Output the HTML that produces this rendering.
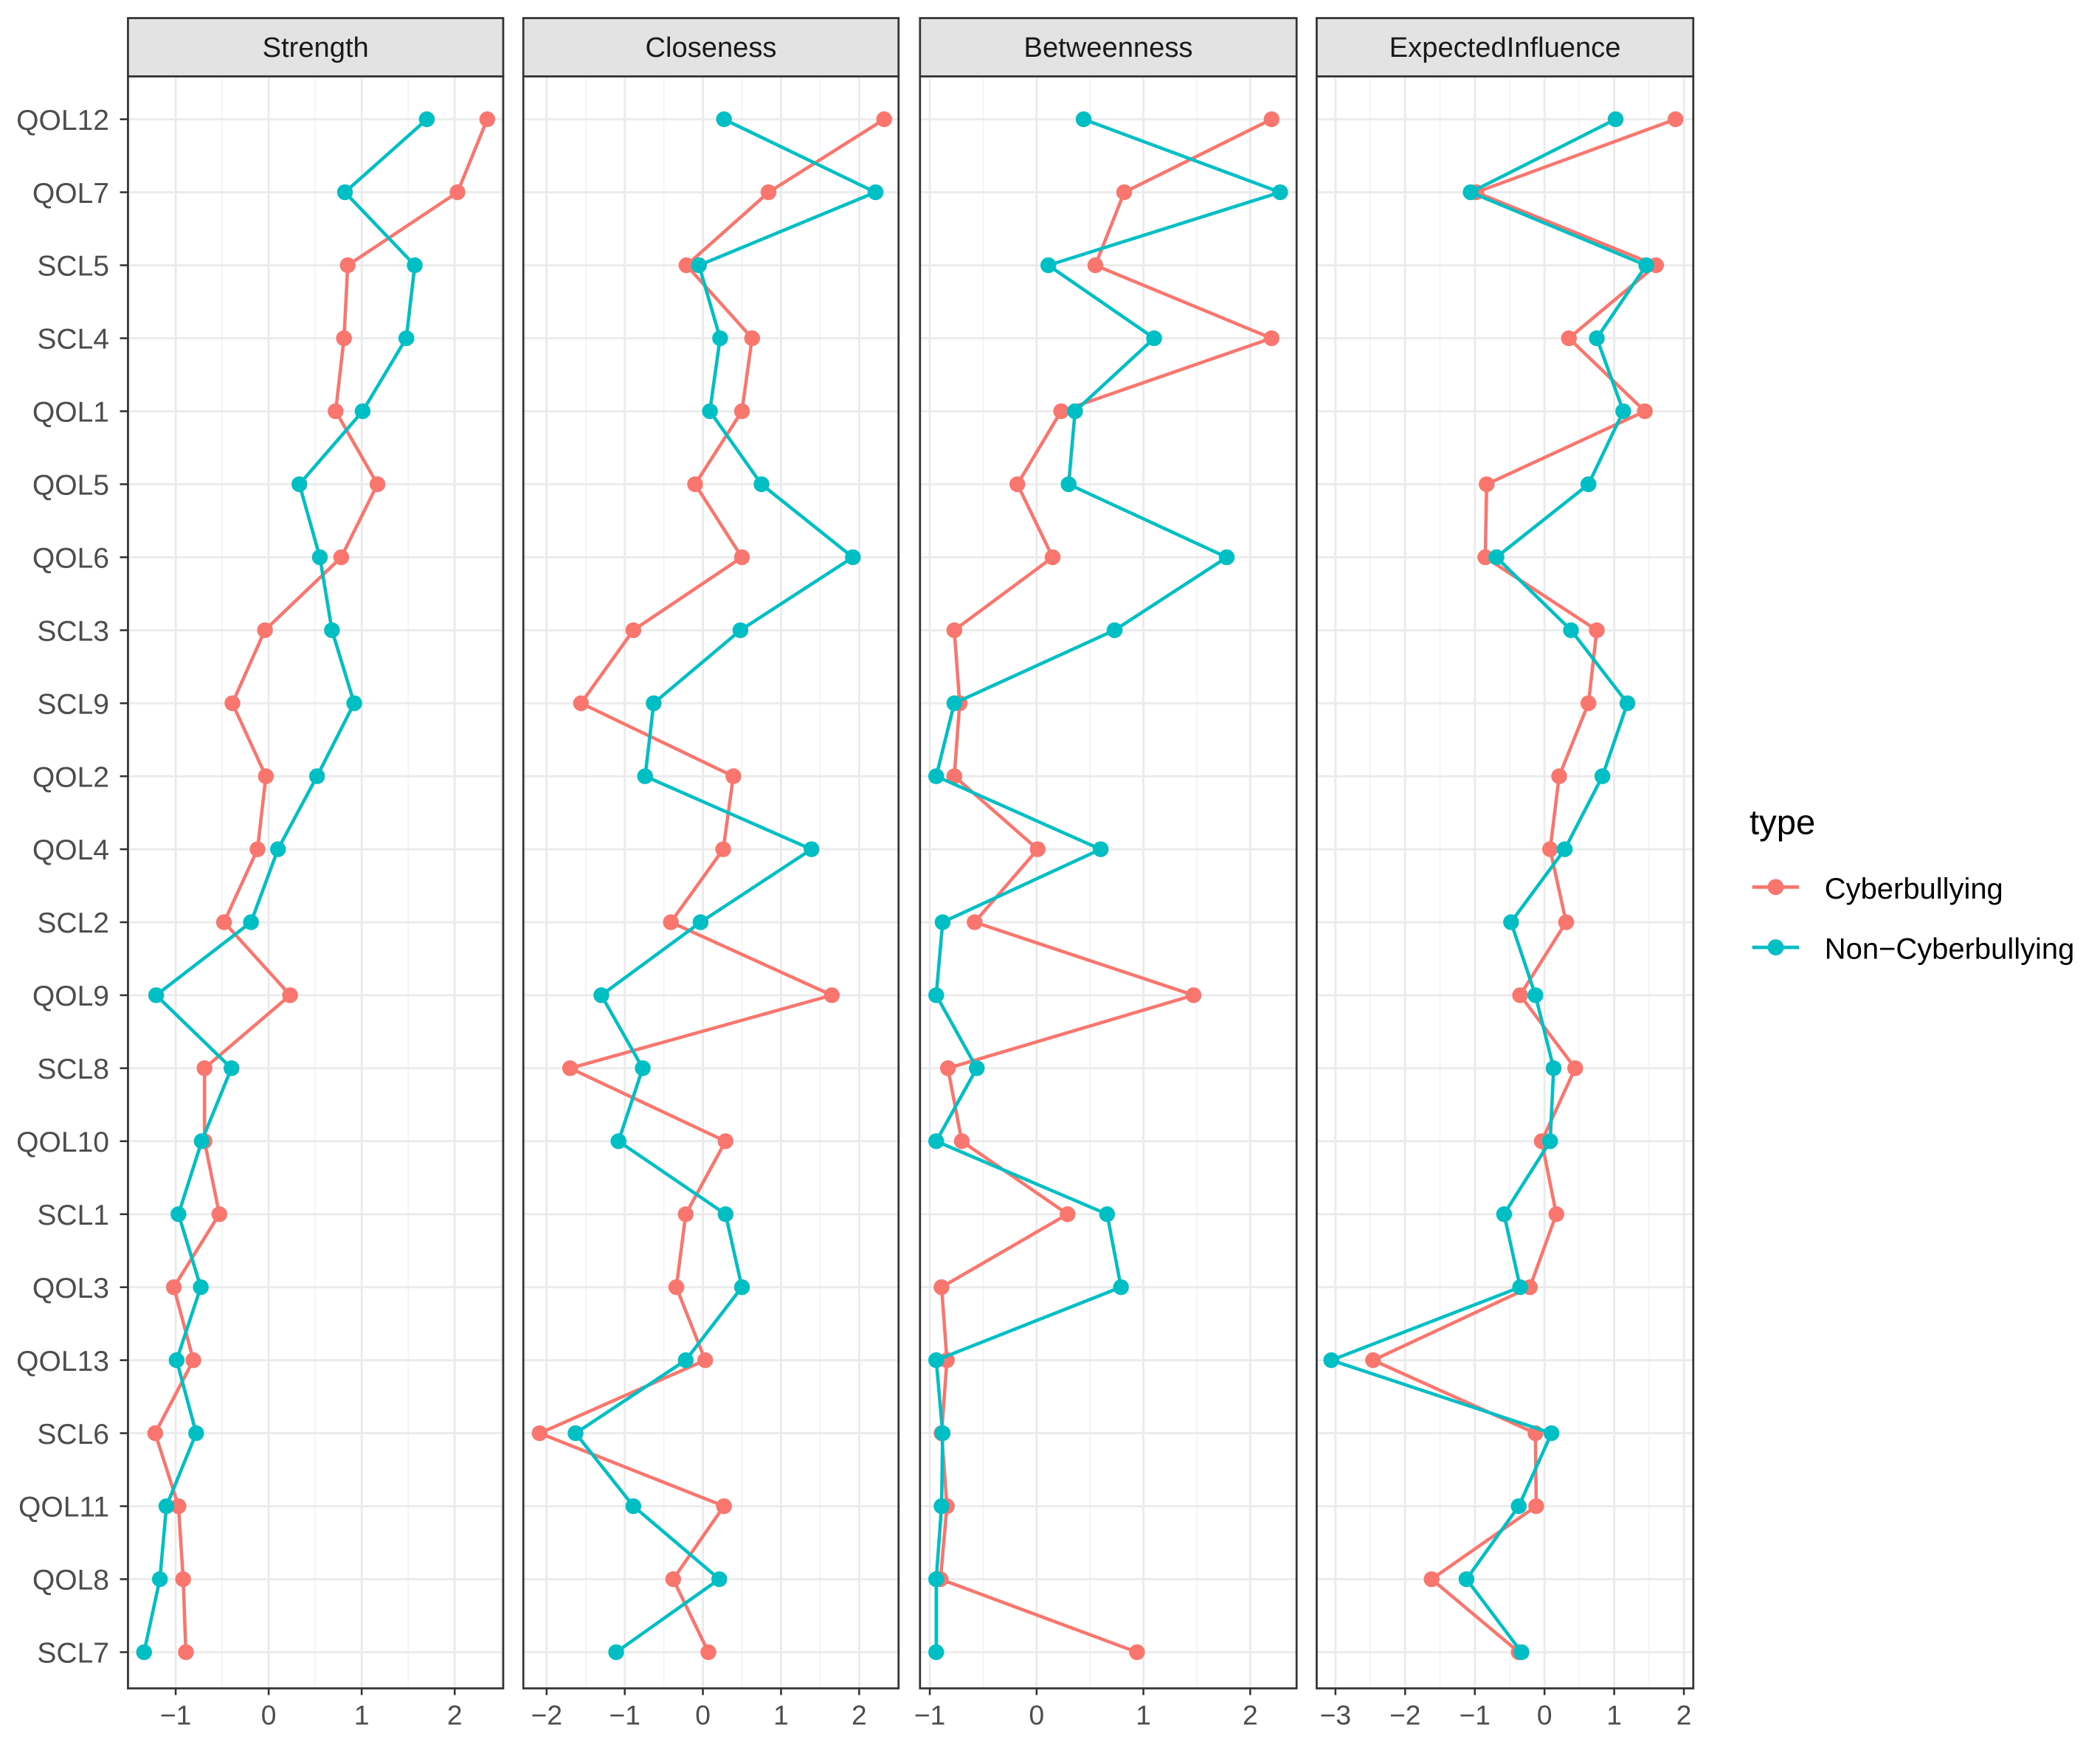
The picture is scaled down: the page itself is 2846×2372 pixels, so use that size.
<!DOCTYPE html>
<html><head><meta charset="utf-8"><style>html,body{margin:0;padding:0;background:#fff}svg{display:block}</style></head>
<body>
<svg id="chart" xmlns="http://www.w3.org/2000/svg" width="2846" height="2372" viewBox="0 0 1566 1306" font-family="Liberation Sans, Arial, sans-serif"></svg>
<script>
const nodes = ["QOL12","QOL7","SCL5","SCL4","QOL1","QOL5","QOL6","SCL3","SCL9","QOL2","QOL4","SCL2","QOL9","SCL8","QOL10","SCL1","QOL3","QOL13","SCL6","QOL11","QOL8","SCL7"];
const panelTitles = ["Strength","Closeness","Betweenness","ExpectedInfluence"];
const strengthCyber = [2.35,2.03,0.85,0.81,0.72,1.17,0.78,-0.04,-0.39,-0.03,-0.12,-0.48,0.23,-0.69,-0.69,-0.53,-1.02,-0.81,-1.22,-0.97,-0.92,-0.89];
const strengthNon = [1.70,0.82,1.57,1.48,1.01,0.33,0.55,0.68,0.92,0.52,0.10,-0.19,-1.21,-0.40,-0.72,-0.97,-0.73,-0.99,-0.78,-1.10,-1.17,-1.34];
const closenessCyber = [2.32,0.84,-0.21,0.63,0.50,-0.10,0.50,-0.89,-1.56,0.39,0.26,-0.41,1.65,-1.70,0.29,-0.22,-0.34,0.03,-2.09,0.27,-0.38,0.07];
const closenessNon = [0.27,2.21,-0.05,0.22,0.09,0.75,1.92,0.48,-0.63,-0.74,1.39,-0.03,-1.30,-0.77,-1.08,0.29,0.50,-0.22,-1.63,-0.89,0.21,-1.11];
const betweenCyber = [2.20,0.82,0.55,2.20,0.23,-0.18,0.15,-0.77,-0.72,-0.77,0.01,-0.58,1.47,-0.83,-0.70,0.29,-0.89,-0.84,-0.89,-0.84,-0.90,0.94];
const betweenNon = [0.44,2.28,0.11,1.10,0.36,0.30,1.78,0.73,-0.77,-0.94,0.60,-0.88,-0.94,-0.56,-0.94,0.66,0.79,-0.94,-0.88,-0.89,-0.94,-0.94];
const eiCyber = [1.88,-0.98,1.60,0.35,1.44,-0.83,-0.85,0.75,0.63,0.21,0.08,0.31,-0.35,0.44,-0.04,0.17,-0.21,-2.46,-0.13,-0.12,-1.62,-0.37];
const eiNon = [1.02,-1.06,1.46,0.75,1.13,0.63,-0.69,0.38,1.19,0.83,0.29,-0.48,-0.13,0.13,0.08,-0.58,-0.35,-3.06,0.10,-0.37,-1.12,-0.33];
const strengthTicks = [-1,0,1,2];
const closenessTicks = [-2,-1,0,1,2];
const betweenTicks = [-1,0,1,2];
const eiTicks = [-3,-2,-1,0,1,2];

const NS = "http://www.w3.org/2000/svg";
const svg = document.getElementById("chart");
function mk(tag, attrs, parent, text){
  const e = document.createElementNS(NS, tag);
  for (const k in attrs) e.setAttribute(k, attrs[k]);
  if (text !== undefined) e.textContent = text;
  (parent || svg).appendChild(e);
  return e;
}
const RED = "#F8766D", TEAL = "#00BFC4";
const top0 = 57, bot0 = 1260;
function yPos(i){ return 89 + i * (1233 - 89) / (nodes.length - 1); }

const panels = [
  {x0:95, x1:375, zero:200, unit:69.4, ticks:strengthTicks, c:strengthCyber, n:strengthNon, key:"strength"},
  {x0:390, x1:670, zero:524, unit:58.3, ticks:closenessTicks, c:closenessCyber, n:closenessNon, key:"closeness"},
  {x0:686, x1:967, zero:773, unit:79.7, ticks:betweenTicks, c:betweenCyber, n:betweenNon, key:"betweenness"},
  {x0:982, x1:1263, zero:1152, unit:52, ticks:eiTicks, c:eiCyber, n:eiNon, key:"expected-influence"}
];

panels.forEach((p, pi) => {
  const xs = v => p.zero + v * p.unit;
  const g = mk("g", {});
  
  
  mk("rect", {x:p.x0, y:top0, width:p.x1-p.x0, height:bot0-top0, fill:"#fff"}, g);
  const tmin = p.ticks[0] - 1, tmax = p.ticks[p.ticks.length-1] + 1;
  for (let v = tmin; v <= tmax; v += 0.5) {
    const x = xs(v);
    if (x <= p.x0 || x >= p.x1) continue;
    const major = Number.isInteger(v) && p.ticks.includes(v);
    mk("line", {x1:x, x2:x, y1:top0, y2:bot0, stroke:major ? "#ebebeb" : "#f2f2f2", "stroke-width":major ? 1.6 : 0.8}, g);
  }
  nodes.forEach((nm, i) => {
    mk("line", {x1:p.x0, x2:p.x1, y1:yPos(i), y2:yPos(i), stroke:"#ebebeb", "stroke-width":1.6}, g);
  });
  [[p.c, RED, "cyberbullying"], [p.n, TEAL, "non-cyberbullying"]].forEach(([vals, col, nm]) => {
    const pts = vals.map((v, i) => xs(v).toFixed(1) + "," + yPos(i).toFixed(1)).join(" ");
    const line = mk("polyline", {points:pts, fill:"none", stroke:col, "stroke-width":2.5}, g);
    
    
    vals.forEach((v, i) => {
      const c = mk("circle", {cx:xs(v), cy:yPos(i), r:5.9, fill:col}, g);
      
      
    });
  });
  mk("rect", {x:p.x0, y:top0, width:p.x1-p.x0, height:bot0-top0, fill:"none", stroke:"#333", "stroke-width":1.5}, g);
  mk("rect", {x:p.x0, y:13.5, width:p.x1-p.x0, height:43.5, fill:"#e3e3e3", stroke:"#333", "stroke-width":1.5}, g);
  const st = mk("text", {x:(p.x0+p.x1)/2, y:42.5, "text-anchor":"middle", "font-size":21, fill:"#1a1a1a"}, g, panelTitles[pi]);
  
  
  p.ticks.forEach(t => {
    const x = xs(t);
    mk("line", {x1:x, x2:x, y1:bot0, y2:bot0+5, stroke:"#333", "stroke-width":1.4}, g);
    const tl = mk("text", {x:x, y:1287, "text-anchor":"middle", "font-size":20.5, fill:"#4d4d4d"}, g, t < 0 ? "\u2212" + Math.abs(t) : String(t));
    
    
  });
});

nodes.forEach((nm, i) => {
  mk("line", {x1:89, x2:95, y1:yPos(i), y2:yPos(i), stroke:"#333", "stroke-width":1.4});
  const t = mk("text", {x:81, y:yPos(i)+7.8, "text-anchor":"end", "font-size":21.5, fill:"#4d4d4d"}, svg, nm);
  
  
});

const lg = mk("g", {});


mk("text", {x:1305, y:622.5, "font-size":26, fill:"#000"}, lg, "type");
[["Cyberbullying", RED, 662], ["Non\u2212Cyberbullying", TEAL, 707]].forEach(([lab, col, y]) => {
  const e = mk("g", {}, lg);
  
  
  mk("line", {x1:1307, x2:1342, y1:y, y2:y, stroke:col, "stroke-width":2.6}, e);
  mk("circle", {cx:1324.5, cy:y, r:6, fill:col}, e);
  mk("text", {x:1361, y:y+8.5, "font-size":22, fill:"#000"}, e, lab);
});
</script>
</body></html>
